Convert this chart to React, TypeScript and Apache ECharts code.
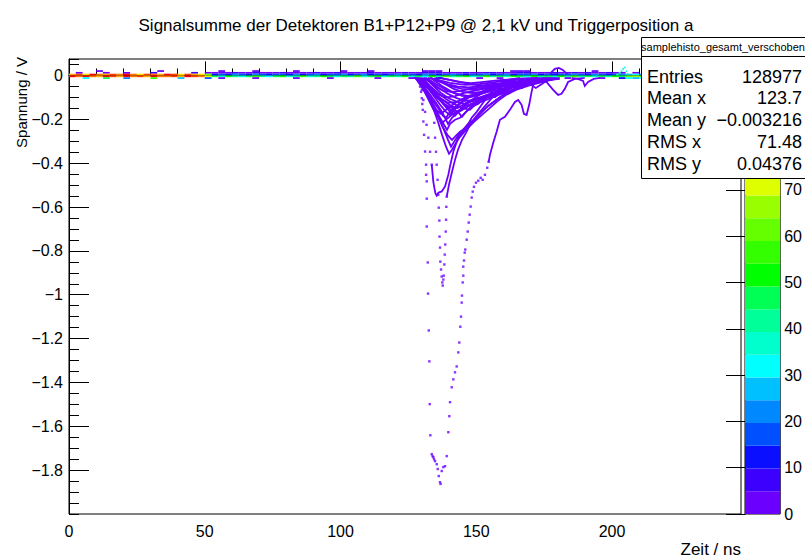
import React, { useEffect, useRef } from 'react';
import * as echarts from 'echarts';

const FONT = '"Liberation Sans", Arial, Helvetica, sans-serif';

const TITLE = 'Signalsumme der Detektoren B1+P12+P9 @ 2,1 kV und Triggerposition a';
const X_TITLE = 'Zeit / ns';
const Y_TITLE = 'Spannung / V';

const X_MIN = 0;
const X_MAX = 247.5;
const X_MAJOR = 50;
const X_MINOR = 10;
const Y_MIN = -2;
const Y_MAX = 0.075;
const Y_MAJOR = 0.2;
const Y_MINOR = 0.05;
const Z_MAX = 98.3;
const Z_MAJOR = 10;
const Z_LABEL_LIMIT = 70; // labels above are hidden behind the statistics box

// ROOT rainbow palette, 20 contours (bottom -> top)
const paletteColors = [
  '#6c00ff', '#3c00ff', '#0a10ff', '#0050ff', '#0088ff',
  '#00c0ff', '#00ffff', '#00ffcc', '#00ff99', '#00ff55',
  '#00ff00', '#33ff00', '#66ff00', '#99ff00', '#ddff00',
  '#ffdd00', '#ffaa00', '#ff7700', '#ff4000', '#ff0000',
];
const TRACE_COLOR = '#6c00ff';

const statsName = 'samplehisto_gesamt_verschoben';
const statsLabels = ['Entries', 'Mean x', 'Mean y', 'RMS x', 'RMS y'];
const statsValues = ['128977', '123.7', '\u22120.003216', '71.48', '0.04376'];

// Baseline: histogram cells, bins of BIN_WIDTH ns, rows centred on rowLevels (V)
const BIN_WIDTH = 2.5;
const ROW_HEIGHT = 0.008;
const rowLevels = [0.02, 0.012, 0.004, -0.004, -0.012];

const rowP20 = [
  0,0,0,0,1,0,0,0,0,0,0,0,0,2,0,0,0,0,0,0,
  0,
  0,1,0,0,0,0,2,0,0,0, 0,0,1,0,0,0,0,0,0,2, 0,0,0,1,0,0,0,0,0,0,
  0,1,2,1,0,0,0,0,0,0, 0,0,0,0,1,2,1,0,0,0, 0,0,0,0,0,0,1,0,0,0,
  0,
  0,0,0,0,0,0,0,0,0,0,0,0,0,0,0,0,0,
];
const rowP12 = [
  0,3,0,0,0,2,0,0,4,0,0,0,6,0,0,0,0,0,5,0,
  4,
  3,4,2,5,3,4,6,3,2,4, 5,3,3,4,2,6,4,3,5,3, 4,2,3,5,4,3,2,4,6,3,
  4,5,7,5,4,3,4,5,3,4, 5,6,4,3,4,6,5,4,3,4, 5,3,4,5,3,6,4,3,5,4,
  3,
  0,1,0,0,2,0,0,1,0,0,0,2,0,0,1,0,0,
];
const rowP04 = [
  82,90,76,95,86,79,92,84,97,88,78,93,85,80,96,89,77,91,83,74,
  60,
  14,18,12,20,16,13,22,15,11,17, 19,14,21,13,16,24,12,18,15,20, 13,17,22,14,19,12,16,21,15,18,
  14,20,16,12,18,23,15,13,19,17, 21,14,16,20,13,18,15,22,14,17, 12,19,16,21,15,13,20,17,14,18,
  20,
  26,30,24,28,31,25,29,27,32,26,28,30,25,29,27,31,26,
];
const rowM04 = [
  94,85,97,88,80,95,90,83,98,86,92,79,96,87,84,93,81,97,89,85,
  70,
  45,38,52,41,36,48,55,40,34,47, 50,39,44,58,37,42,53,46,35,49, 43,56,38,45,51,36,48,41,54,39,
  47,33,50,44,57,40,46,52,37,43, 55,41,48,36,51,45,39,53,42,47, 38,50,44,56,40,46,35,49,43,52,
  45,
  62,68,58,70,64,60,72,66,59,67,63,71,61,65,69,60,66,
];
const rowM12 = [
  0,0,30,0,0,45,0,0,20,0,0,0,55,0,0,0,25,0,0,0,
  15,
  0,2,0,0,0,0,3,0,0,0, 0,0,2,0,0,0,0,4,0,0, 0,0,0,0,3,0,0,0,0,2,
  0,0,0,5,0,0,0,0,0,3, 0,0,2,0,0,0,0,3,0,0, 0,0,4,0,0,0,0,2,0,0,
  10,
  30,26,33,28,31,25,34,29,27,32,28,30,26,33,29,31,27,
];
// ramp of the baseline near 203 ns: [t0, t1, v, count]
const bumpCells = [
  [201.5, 202.5, 0.004, 40], [202.5, 203.2, 0.012, 42], [203.2, 203.8, 0.02, 38],
  [203.8, 204.4, 0.03, 36], [204.4, 205.0, 0.036, 30], [205.0, 205.5, 0.02, 34],
  [205.5, 206.0, 0.008, 40],
];

// Individual pulse traces (ns, V), drawn as lines
const traceLines: number[][][] = [
  [[154.56,-0.394],[155.04,-0.362],[156.25,-0.307],[157.50,-0.257],[158.71,-0.202],[160.55,-0.189],[162.39,-0.157],[164.23,-0.121],[165.44,-0.112],[166.69,-0.134],[167.54,-0.175],[168.53,-0.180],[169.49,-0.134],[170.37,-0.075],[170.96,-0.043],[171.58,-0.030],[173.42,-0.020],[177.10,-0.011]],
  [[139.12,-0.553],[139.96,-0.498],[141.07,-0.439],[142.17,-0.385],[143.27,-0.339],[144.74,-0.294],[146.21,-0.262],[147.68,-0.225],[149.52,-0.193],[151.36,-0.166],[153.57,-0.134],[155.77,-0.102],[158.71,-0.075],[162.39,-0.052],[166.07,-0.034],[169.74,-0.020],[175.26,-0.011]],
  [[133.60,-0.407],[133.90,-0.448],[134.19,-0.485],[134.63,-0.517],[135.00,-0.539],[135.44,-0.548],[136.03,-0.535],[137.28,-0.529],[138.49,-0.506],[139.71,-0.453],[140.33,-0.415],[141.54,-0.348],[142.79,-0.303],[143.38,-0.280],[145.22,-0.257],[146.47,-0.234],[148.31,-0.193],[150.15,-0.166],[151.99,-0.134],[153.82,-0.102],[155.66,-0.075],[157.50,-0.052],[159.93,-0.030],[162.39,-0.020],[166.07,-0.011]],
  [[127.10,-0.007],[129.30,-0.030],[132.24,-0.075],[135.18,-0.125],[137.39,-0.166],[139.60,-0.221],[141.07,-0.193],[143.27,-0.166],[146.21,-0.130],[149.89,-0.098],[154.30,-0.066],[158.71,-0.048],[164.23,-0.030],[171.58,-0.016],[178.93,-0.011]],
  [[127.83,-0.007],[130.77,-0.057],[133.71,-0.112],[135.92,-0.148],[137.76,-0.184],[138.86,-0.193],[140.33,-0.166],[142.54,-0.139],[145.48,-0.112],[149.16,-0.089],[153.57,-0.066],[157.98,-0.048],[163.12,-0.034],[169.74,-0.020],[177.10,-0.011]],
  [[128.57,-0.011],[131.51,-0.075],[134.45,-0.139],[136.65,-0.193],[138.12,-0.225],[139.23,-0.248],[140.33,-0.221],[142.17,-0.202],[144.01,-0.193],[146.21,-0.166],[148.42,-0.143],[150.63,-0.130],[153.57,-0.102],[156.88,-0.098],[159.45,-0.075],[163.12,-0.057],[168.27,-0.039],[175.26,-0.020],[180.77,-0.011]],
  [[129.30,-0.011],[132.24,-0.057],[135.18,-0.098],[138.12,-0.130],[141.07,-0.148],[143.27,-0.166],[144.74,-0.189],[146.21,-0.166],[148.42,-0.139],[151.36,-0.112],[154.30,-0.089],[156.88,-0.098],[158.71,-0.071],[161.65,-0.048],[166.07,-0.034],[173.42,-0.020]],
  [[128.20,-0.011],[131.14,-0.043],[134.08,-0.080],[137.02,-0.107],[139.60,-0.125],[142.54,-0.121],[146.21,-0.102],[150.63,-0.084],[155.04,-0.066],[160.55,-0.048],[166.07,-0.039],[171.58,-0.020],[177.10,-0.011]],
  [[128.93,-0.011],[131.88,-0.048],[135.18,-0.089],[137.76,-0.130],[140.33,-0.166],[142.17,-0.184],[144.01,-0.157],[146.95,-0.125],[149.89,-0.107],[152.83,-0.098],[155.77,-0.089],[158.71,-0.066],[162.39,-0.043],[167.90,-0.030],[173.42,-0.016]],
  [[130.04,-0.011],[132.98,-0.048],[135.92,-0.080],[138.86,-0.107],[141.80,-0.130],[144.74,-0.148],[147.68,-0.157],[149.52,-0.134],[152.10,-0.112],[155.04,-0.093],[158.71,-0.084],[161.29,-0.066],[164.23,-0.048],[167.90,-0.039],[172.68,-0.025],[177.83,-0.016]],
  [[130.77,-0.011],[133.71,-0.034],[136.65,-0.061],[139.60,-0.084],[142.54,-0.102],[145.85,-0.116],[149.16,-0.112],[152.83,-0.093],[157.24,-0.075],[161.65,-0.057],[166.07,-0.048],[169.74,-0.034],[173.42,-0.020]],
  [[128.57,-0.011],[131.14,-0.066],[133.71,-0.130],[135.92,-0.189],[137.76,-0.239],[139.60,-0.275],[141.07,-0.294],[142.54,-0.275],[144.01,-0.257],[146.21,-0.239],[148.42,-0.212],[150.63,-0.184],[153.57,-0.148],[156.51,-0.121],[159.45,-0.093],[162.39,-0.075],[165.33,-0.057],[169.74,-0.039],[175.26,-0.020]],
  [[127.46,-0.007],[129.67,-0.039],[132.24,-0.089],[134.45,-0.148],[136.65,-0.202],[138.12,-0.248],[139.60,-0.294],[140.70,-0.325],[141.80,-0.303],[143.27,-0.275],[145.11,-0.248],[146.95,-0.221],[149.16,-0.202],[151.36,-0.175],[154.30,-0.139],[157.24,-0.112],[160.55,-0.084],[164.23,-0.061],[169.74,-0.039],[176.36,-0.020]],
  [[131.51,-0.011],[135.18,-0.039],[138.86,-0.066],[142.54,-0.084],[146.95,-0.093],[151.36,-0.084],[155.77,-0.071],[160.18,-0.061],[164.60,-0.052],[167.54,-0.043],[169.74,-0.030],[173.42,-0.020],[177.83,-0.011]],
  [[132.98,-0.011],[136.65,-0.030],[140.33,-0.048],[144.74,-0.061],[149.52,-0.066],[154.30,-0.057],[158.71,-0.043],[164.23,-0.048],[166.80,-0.057],[169.01,-0.039],[171.58,-0.020],[176.36,-0.011]],
  [[136.65,-0.011],[142.17,-0.025],[147.68,-0.039],[153.20,-0.048],[158.71,-0.039],[163.12,-0.025],[166.07,-0.016],[169.01,-0.030],[171.21,-0.020],[175.26,-0.016]],
  [[171.58,-0.011],[173.42,-0.020],[175.88,-0.030],[178.31,-0.066],[180.15,-0.089],[181.40,-0.084],[182.61,-0.061],[183.82,-0.030],[186.29,-0.016],[189.96,-0.011]],
  [[185.18,-0.011],[187.39,-0.016],[189.34,-0.025],[189.96,-0.048],[191.18,-0.030],[193.27,-0.016],[195.48,-0.011]],
  [[176.36,-0.007],[177.83,0.016],[178.93,0.030],[180.40,0.034],[181.88,0.025],[183.35,0.007],[184.45,-0.007]],
  [[158.71,-0.020],[160.92,-0.039],[163.12,-0.048],[164.60,-0.030],[166.80,-0.020],[169.74,-0.039],[171.95,-0.057],[174.15,-0.039],[176.36,-0.020],[179.30,-0.011]],
  [[129.30,-0.011],[131.88,-0.075],[134.08,-0.148],[135.92,-0.212],[137.39,-0.271],[138.86,-0.325],[139.96,-0.357],[141.07,-0.339],[142.54,-0.307],[144.01,-0.280],[146.21,-0.248],[149.16,-0.212],[152.10,-0.180],[155.04,-0.148],[157.98,-0.116],[160.92,-0.089],[164.60,-0.066],[169.01,-0.048],[174.15,-0.030],[179.30,-0.016]],
  [[132.24,-0.011],[135.92,-0.020],[140.33,-0.034],[145.85,-0.043],[151.36,-0.039],[156.88,-0.030],[162.39,-0.020],[167.90,-0.016],[173.42,-0.011]],
  [[133.71,-0.016],[137.39,-0.048],[141.07,-0.075],[144.74,-0.093],[148.42,-0.098],[152.83,-0.080],[157.24,-0.057],[161.65,-0.043],[166.07,-0.030],[171.95,-0.020],[177.10,-0.016]],
  [[128.57,-0.011],[130.77,-0.039],[132.98,-0.071],[135.18,-0.107],[137.02,-0.139],[138.86,-0.166],[140.33,-0.180],[141.80,-0.157],[144.01,-0.130],[146.95,-0.102],[150.63,-0.080],[155.04,-0.061],[160.55,-0.048],[166.80,-0.039],[173.42,-0.025],[180.77,-0.016]],
  [[129.0,-0.01],[131.5,-0.04],[134.0,-0.07],[136.5,-0.09],[139.0,-0.10],[142.0,-0.095],[145.5,-0.08],[149.0,-0.07],[153.0,-0.06],[157.0,-0.045],[161.0,-0.035],[165.0,-0.03],[170.0,-0.02],[176.0,-0.012]],
  [[130.5,-0.01],[133.0,-0.03],[135.5,-0.055],[138.0,-0.07],[141.0,-0.075],[144.5,-0.07],[148.0,-0.06],[152.0,-0.055],[156.0,-0.045],[160.5,-0.04],[163.5,-0.045],[166.5,-0.035],[170.0,-0.02],[175.0,-0.012]],
  [[128.0,-0.01],[130.0,-0.05],[132.0,-0.10],[134.0,-0.15],[136.0,-0.19],[137.5,-0.215],[139.0,-0.2],[141.0,-0.18],[143.5,-0.16],[146.0,-0.14],[149.0,-0.125],[152.0,-0.11],[155.5,-0.09],[159.0,-0.07],[163.0,-0.05],[168.0,-0.035],[174.0,-0.02],[180.0,-0.012]],
  [[131.0,-0.01],[134.0,-0.045],[137.0,-0.08],[140.0,-0.105],[143.0,-0.12],[145.5,-0.13],[147.5,-0.12],[150.0,-0.105],[153.0,-0.095],[156.0,-0.08],[160.0,-0.065],[164.0,-0.05],[168.0,-0.04],[172.0,-0.03],[178.0,-0.015]],
  [[129.5,-0.01],[132.5,-0.05],[135.5,-0.09],[138.5,-0.12],[141.0,-0.14],[143.0,-0.15],[145.0,-0.135],[147.0,-0.12],[150.0,-0.115],[153.0,-0.1],[156.5,-0.085],[159.0,-0.08],[161.5,-0.085],[164.0,-0.065],[168.0,-0.045],[173.0,-0.03],[179.0,-0.015]],
  [[133.0,-0.01],[136.0,-0.025],[139.5,-0.04],[143.0,-0.05],[147.0,-0.055],[151.0,-0.05],[155.0,-0.04],[159.0,-0.035],[163.0,-0.03],[167.0,-0.025],[171.0,-0.02],[176.0,-0.012]],
  [[127.5,-0.01],[129.5,-0.045],[131.5,-0.085],[133.5,-0.125],[135.5,-0.16],[137.0,-0.175],[138.5,-0.16],[140.5,-0.14],[143.0,-0.12],[146.0,-0.1],[149.5,-0.085],[153.5,-0.07],[158.0,-0.055],[162.5,-0.04],[167.0,-0.03],[172.0,-0.02],[178.0,-0.012]],
  [[134.5,-0.012],[138.0,-0.035],[141.5,-0.06],[145.0,-0.075],[148.5,-0.08],[152.0,-0.075],[155.5,-0.065],[158.5,-0.06],[161.0,-0.065],[163.0,-0.055],[166.0,-0.04],[170.0,-0.03],[174.0,-0.02],[180.0,-0.012]],
  [[136.0,-0.01],[140.0,-0.02],[144.0,-0.03],[148.0,-0.035],[152.0,-0.03],[156.0,-0.025],[160.0,-0.02],[165.0,-0.015],[170.0,-0.012]],
  [[130.0,-0.01],[132.0,-0.04],[134.5,-0.08],[137.0,-0.115],[139.5,-0.145],[141.5,-0.165],[143.0,-0.17],[144.5,-0.16],[146.5,-0.145],[149.0,-0.13],[152.0,-0.12],[155.0,-0.105],[158.0,-0.09],[161.0,-0.075],[164.5,-0.06],[168.5,-0.045],[173.0,-0.03],[179.0,-0.015]],
];

// Sparse single samples on the steep flanks (ns, V)
const traceDots: number[][] = [
  [128.01,-0.002],[128.68,-0.013],[128.93,-0.030],[129.30,-0.051],[129.67,-0.075],[129.93,-0.104],[130.11,-0.130],[130.29,-0.157],[130.51,-0.210],[130.77,-0.271],[131.14,-0.347],[131.51,-0.407],[131.51,-0.453],[131.76,-0.483],[131.76,-0.562],[131.76,-0.689],[132.13,-0.853],[132.24,-0.995],[132.50,-1.163],[132.72,-1.304],[132.87,-1.499],[133.09,-1.641],[133.60,-1.727],[133.90,-1.736],[134.19,-1.741],[134.45,-1.750],[134.82,-1.759],[135.44,-1.773],[135.81,-1.795],[136.18,-1.827],[136.65,-1.855],[136.84,-1.863],[137.28,-1.804],[137.87,-1.786],[138.49,-1.782],[139.12,-1.736],[139.71,-1.627],[140.07,-1.554],[140.33,-1.490],[140.96,-1.422],[141.54,-1.386],[142.17,-1.354],[142.79,-1.327],[143.38,-1.263],[143.75,-1.218],[144.12,-1.146],[144.38,-1.100],[144.63,-1.036],[144.74,-1.004],[145.00,-0.944],[145.22,-0.913],[145.22,-0.872],[145.48,-0.844],[145.74,-0.808],[145.96,-0.794],[146.47,-0.749],[146.84,-0.712],[147.21,-0.671],[147.57,-0.635],[147.94,-0.598],[148.31,-0.557],[148.68,-0.530],[149.16,-0.508],[149.89,-0.489],[150.74,-0.480],[151.62,-0.467],[152.35,-0.476],[153.20,-0.453],[154.04,-0.421],[154.56,-0.394],
  [131.14,-0.043],[132.61,-0.089],[133.53,-0.121],[134.19,-0.148],[134.52,-0.216],[134.82,-0.284],[135.18,-0.348],[135.44,-0.407],[135.74,-0.476],[136.03,-0.544],[136.18,-0.603],[136.40,-0.662],[136.47,-0.735],[136.65,-0.785],[136.76,-0.849],[137.02,-0.885],[137.28,-0.917],[137.50,-0.944],[137.65,-0.958],[137.87,-0.931],[138.01,-0.913],[138.24,-0.862],[138.38,-0.817],[138.57,-0.771],[138.75,-0.712],[138.86,-0.658],[138.97,-0.599],[139.12,-0.553],
  [127.83,-0.007],[128.68,-0.020],[129.30,-0.039],[129.93,-0.066],[130.51,-0.112],[131.14,-0.166],[131.69,-0.225],[132.35,-0.284],[132.98,-0.348],[133.60,-0.407],
];

function colorFor(c: number): string {
  const n = paletteColors.length;
  const idx = Math.min(n - 1, Math.max(0, Math.floor(c / (Z_MAX / n))));
  return paletteColors[idx];
}

function fmtY(v: number): string {
  if (Math.abs(v) < 1e-9) return '0';
  const s = String(Number(Math.abs(v).toFixed(3)));
  return v < 0 ? '\u2212' + s : s;
}

export default function App() {
  const ref = useRef<HTMLDivElement>(null);
  useEffect(() => {
    if (!ref.current) return;
    const chart = echarts.init(ref.current, undefined, { renderer: 'svg' });

    const rows = [rowP20, rowP12, rowP04, rowM04, rowM12];
    const cells: number[][] = [];
    rows.forEach((row, r) => {
      row.forEach((c, i) => {
        if (c > 0) cells.push([i * BIN_WIDTH, (i + 1) * BIN_WIDTH, rowLevels[r], c]);
      });
    });
    bumpCells.forEach((c) => cells.push(c));

    const paletteData = paletteColors.map((_, i) => [i]);
    const bandWidth = Z_MAX / paletteColors.length;

    const axisTxt = { color: '#000', fontSize: 16, fontFamily: FONT };
    const black = { color: '#000', width: 1 };

    const statsX = 641.5, statsY = 37.5, statsW = 165, statsH = 141;
    const graphics: any[] = [
      {
        type: 'text', x: 21, y: 57, rotation: Math.PI / 2, z: 100,
        style: { text: Y_TITLE, fill: '#000', font: `15px ${FONT}`, align: 'right', verticalAlign: 'middle' },
      },
      {
        type: 'text', x: 741, y: 549, z: 100,
        style: { text: X_TITLE, fill: '#000', font: `17px ${FONT}`, align: 'right', verticalAlign: 'middle' },
      },
      {
        type: 'rect', z: 100,
        shape: { x: statsX, y: statsY, width: statsW, height: statsH },
        style: { fill: '#fff', stroke: '#000', lineWidth: 1 },
      },
      {
        type: 'line', z: 101,
        shape: { x1: statsX, y1: 56.5, x2: statsX + statsW, y2: 56.5 },
        style: { stroke: '#000', lineWidth: 1 },
      },
      {
        type: 'text', x: 723, y: 46.5, z: 101,
        style: { text: statsName, fill: '#000', font: `11px ${FONT}`, align: 'center', verticalAlign: 'middle' },
      },
    ];
    statsLabels.forEach((lab, i) => {
      const y = 76.5 + i * 21.75;
      graphics.push({
        type: 'text', x: 647, y, z: 101,
        style: { text: lab, fill: '#000', font: `18px ${FONT}`, align: 'left', verticalAlign: 'middle' },
      });
      graphics.push({
        type: 'text', x: 802, y, z: 101,
        style: { text: statsValues[i], fill: '#000', font: `18px ${FONT}`, align: 'right', verticalAlign: 'middle' },
      });
    });

    const option: any = {
      animation: false,
      backgroundColor: '#fff',
      title: {
        text: TITLE, left: 411, top: 12, textAlign: 'center',
        textStyle: { color: '#000', fontSize: 17, fontWeight: 'normal', fontFamily: FONT },
      },
      grid: [
        { left: 69, top: 59, width: 672, height: 455, show: true, borderColor: '#000', borderWidth: 1, backgroundColor: 'transparent' },
        { left: 745, top: 59, width: 38, height: 455, show: true, borderColor: '#000', borderWidth: 1, backgroundColor: 'transparent' },
      ],
      xAxis: [
        {
          gridIndex: 0, type: 'value', min: X_MIN, max: X_MAX, interval: X_MAJOR, position: 'bottom',
          axisLine: { show: true, lineStyle: black },
          axisTick: { show: true, inside: true, length: 14, lineStyle: black },
          axisLabel: { ...axisTxt, margin: 9, showMaxLabel: false },
          splitLine: { show: false },
        },
        {
          gridIndex: 0, type: 'value', min: X_MIN, max: X_MAX, interval: X_MINOR, position: 'bottom',
          axisLine: { show: false },
          axisTick: { show: true, inside: true, length: 7, lineStyle: black },
          axisLabel: { show: false },
          splitLine: { show: false },
        },
        { gridIndex: 1, type: 'value', min: 0, max: 1, show: false },
      ],
      yAxis: [
        {
          gridIndex: 0, type: 'value', min: Y_MIN, max: Y_MAX, interval: Y_MAJOR, position: 'left',
          axisLine: { show: true, lineStyle: black },
          axisTick: { show: true, inside: true, length: 20, lineStyle: black },
          axisLabel: { ...axisTxt, margin: 6, showMinLabel: false, showMaxLabel: false, formatter: fmtY },
          splitLine: { show: false },
        },
        {
          gridIndex: 0, type: 'value', min: Y_MIN, max: Y_MAX, interval: Y_MINOR, position: 'left',
          axisLine: { show: false },
          axisTick: { show: true, inside: true, length: 10, lineStyle: black },
          axisLabel: { show: false },
          splitLine: { show: false },
        },
        {
          gridIndex: 1, type: 'value', min: 0, max: Z_MAX, interval: Z_MAJOR, position: 'right',
          axisLine: { show: true, lineStyle: black },
          axisTick: { show: true, inside: true, length: 19, lineStyle: black },
          axisLabel: {
            ...axisTxt, margin: 4, showMaxLabel: false,
            formatter: (v: number) => (v > Z_LABEL_LIMIT ? '' : String(v)),
          },
          splitLine: { show: false },
        },
      ],
      series: [
        {
          type: 'lines', coordinateSystem: 'cartesian2d', polyline: true,
          xAxisIndex: 0, yAxisIndex: 0, silent: true, z: 2,
          lineStyle: { color: TRACE_COLOR, width: 1.8, opacity: 1 },
          data: traceLines.map((coords) => ({ coords })),
        },
        {
          type: 'scatter', xAxisIndex: 0, yAxisIndex: 0, silent: true, z: 2,
          symbol: 'rect', symbolSize: 2.4,
          itemStyle: { color: TRACE_COLOR },
          data: traceDots,
        },
        {
          type: 'custom', xAxisIndex: 0, yAxisIndex: 0, silent: true, z: 3,
          encode: { x: [0, 1], y: 2 },
          data: cells,
          renderItem: (_p: any, api: any) => {
            const t0 = api.value(0), t1 = api.value(1), v = api.value(2), c = api.value(3);
            const p0 = api.coord([t0, v + ROW_HEIGHT / 2]);
            const p1 = api.coord([t1, v - ROW_HEIGHT / 2]);
            return {
              type: 'rect',
              shape: { x: p0[0], y: p0[1], width: p1[0] - p0[0], height: p1[1] - p0[1] },
              style: { fill: colorFor(c) },
            };
          },
        },
        {
          type: 'custom', xAxisIndex: 2, yAxisIndex: 2, silent: true, z: 1,
          data: paletteData,
          renderItem: (_p: any, api: any) => {
            const i = api.value(0);
            const p0 = api.coord([0, (i + 1) * bandWidth]);
            const p1 = api.coord([1, i * bandWidth]);
            return {
              type: 'rect',
              shape: { x: p0[0], y: p0[1], width: p1[0] - p0[0], height: p1[1] - p0[1] },
              style: { fill: paletteColors[i] },
            };
          },
        },
      ],
      graphic: graphics,
    };
    chart.setOption(option);
    return () => chart.dispose();
  }, []);

  return (
    <div
      ref={ref}
      style={{ position: 'fixed', left: 0, top: 0, width: 805, height: 558, background: '#fff' }}
    />
  );
}
